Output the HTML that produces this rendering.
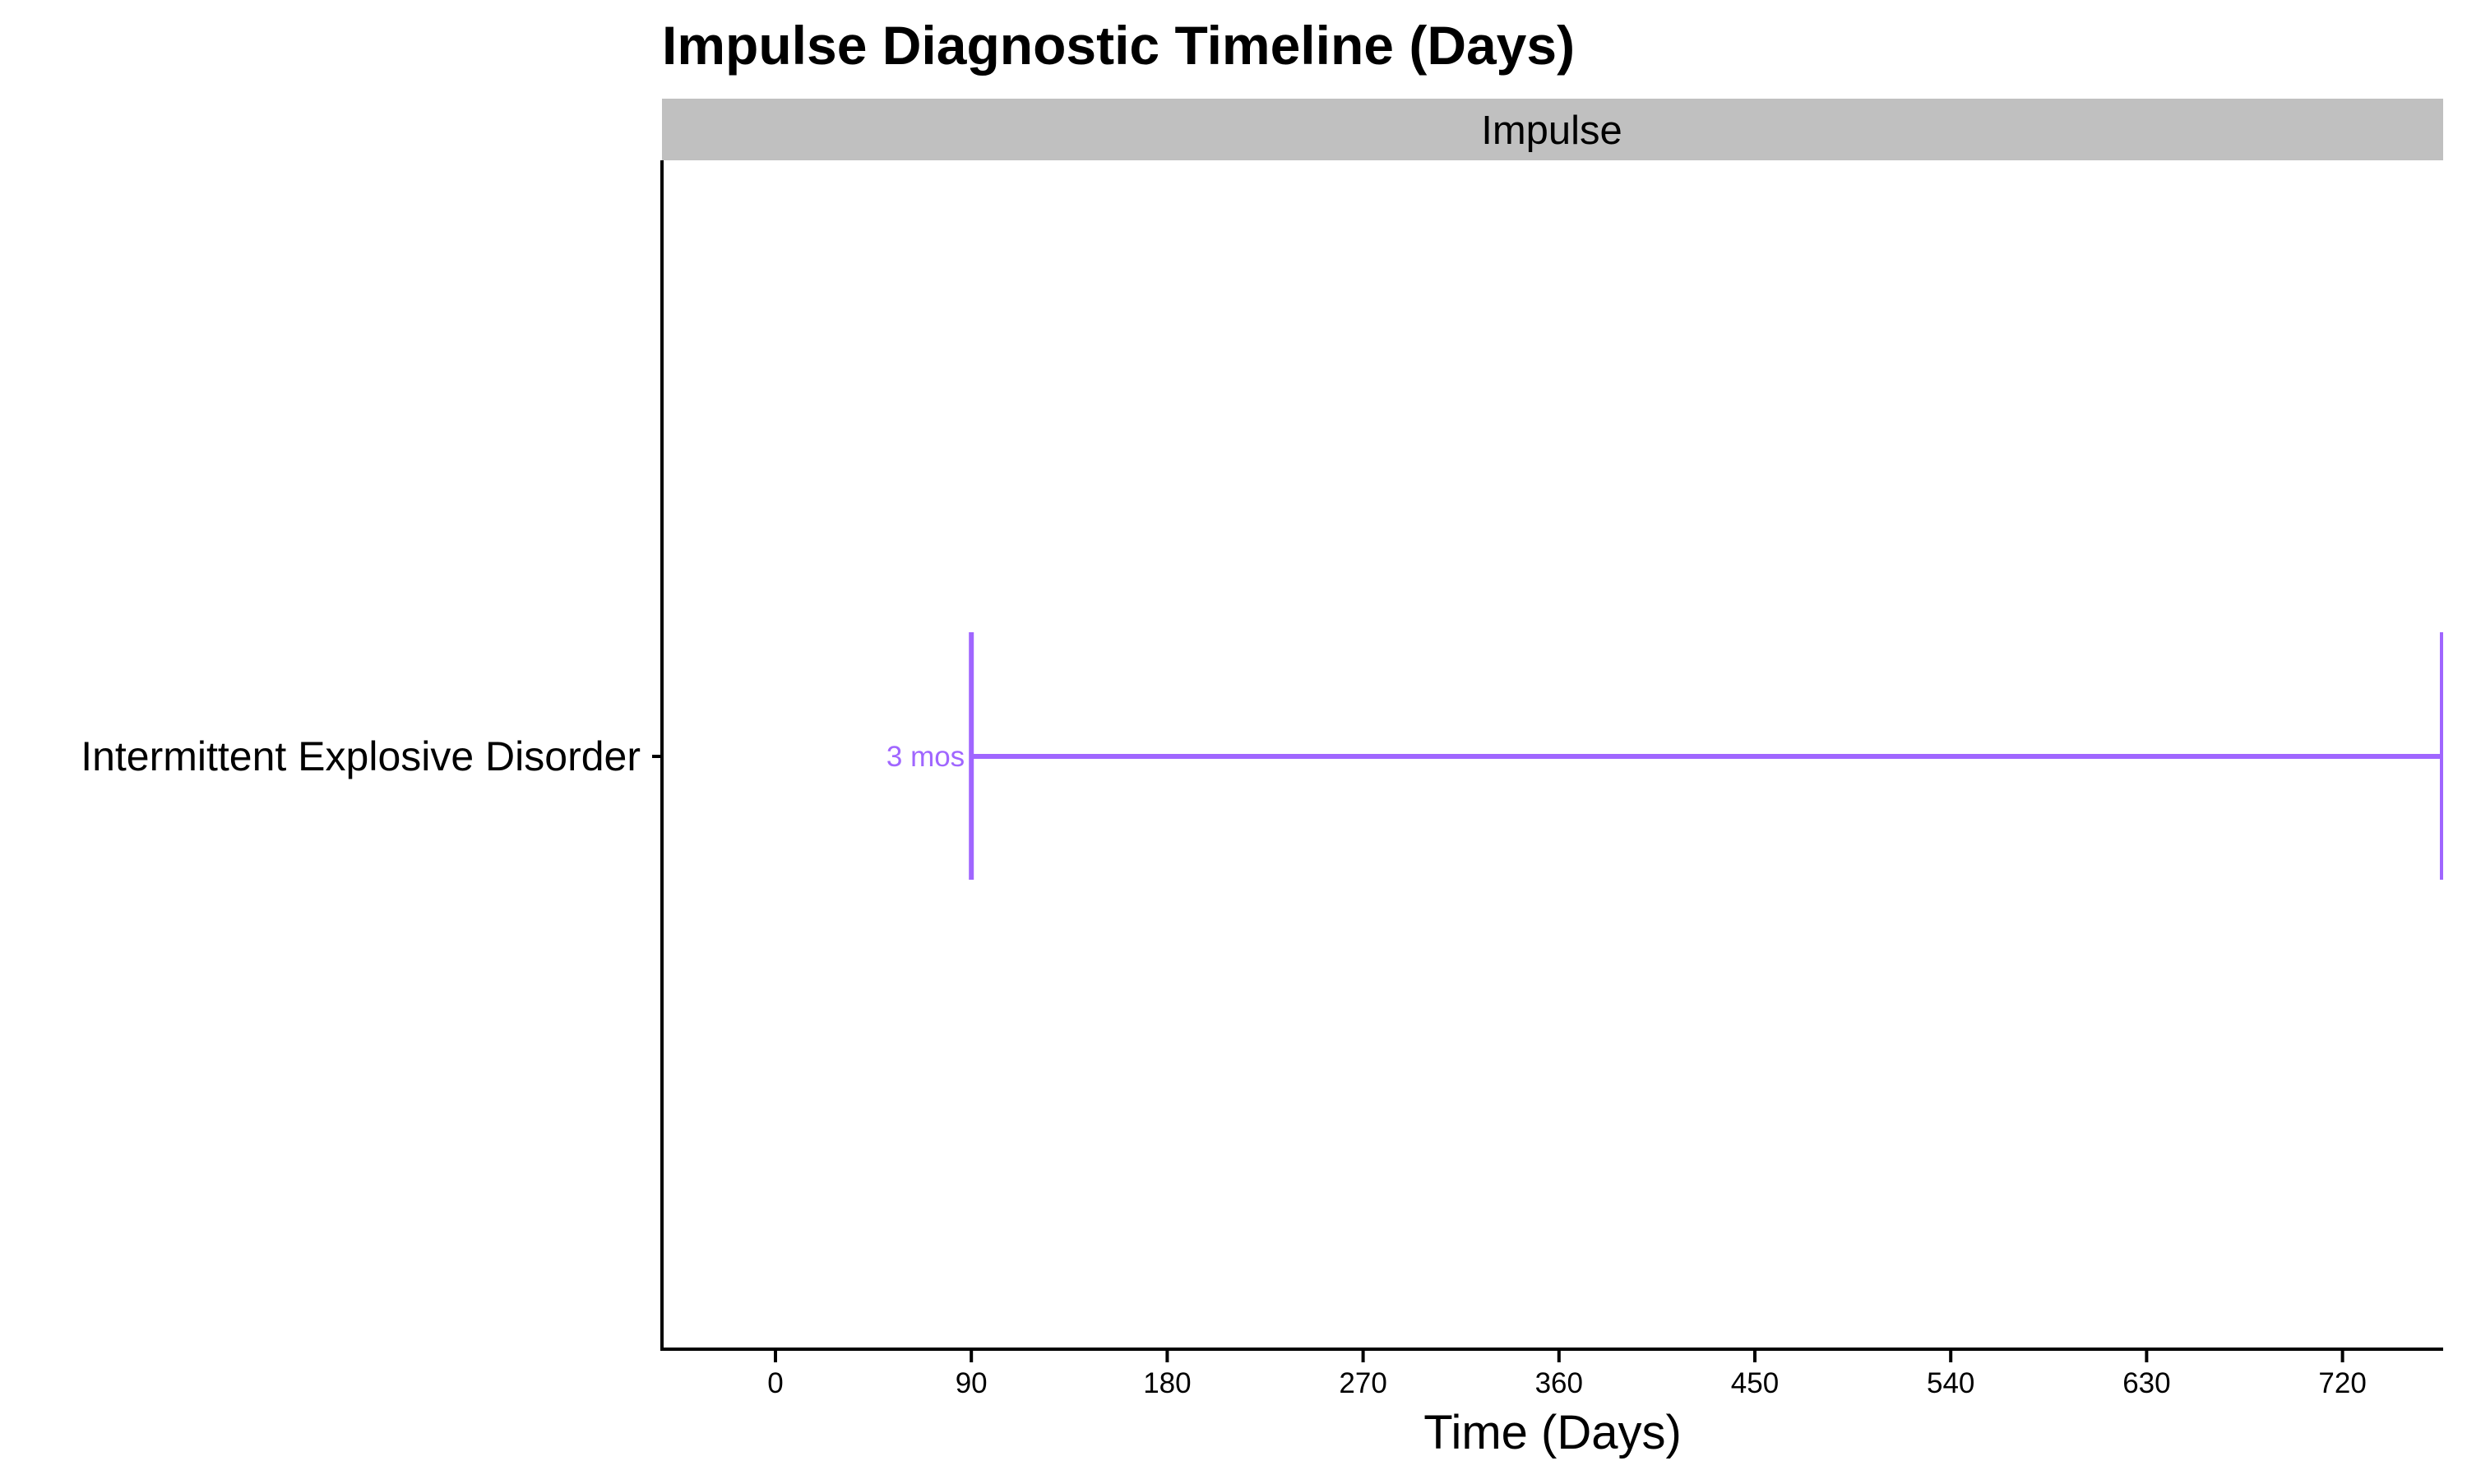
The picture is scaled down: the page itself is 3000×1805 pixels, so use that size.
<!DOCTYPE html>
<html><head><meta charset="utf-8"><style>
html,body{margin:0;padding:0;background:#fff;}
svg text{font-family:"Liberation Sans",Arial,sans-serif;}
</style></head><body>
<svg id="chart" width="3000" height="1800" xmlns="http://www.w3.org/2000/svg">
<text x="805" y="78" font-size="66" font-weight="bold" fill="#000">Impulse Diagnostic Timeline (Days)</text>
<rect x="805" y="120" width="2166" height="75" fill="#c0c0c0"/>
<text x="1887" y="175" font-size="49" text-anchor="middle" fill="#000">Impulse</text>
<g id="axes"></g>
<g id="marks"></g>
<text x="1888" y="1762" font-size="58" text-anchor="middle" fill="#000">Time (Days)</text>
</svg>
<script>
const categories = ["Intermittent Explosive Disorder"];
const startDays = [90];
const endDays = [768];
const startLabels = ["3 mos"];
const xTicks = [0, 90, 180, 270, 360, 450, 540, 630, 720];

const NS = "http://www.w3.org/2000/svg";
const L = 805, R = 2971, T = 195, B = 1641;
function x(d){ return 943 + d * 238.2 / 90; }
function y(i){ return 920 + i * 200; }
function mk(tag, attrs, parent){
  const e = document.createElementNS(NS, tag);
  for (const k in attrs) e.setAttribute(k, attrs[k]);
  parent.appendChild(e); return e;
}
const axes = document.getElementById('axes');
const marks = document.getElementById('marks');
let e = mk('line', {x1:L, y1:T, x2:L, y2:B+2, stroke:'#000', 'stroke-width':4}, axes);


e = mk('line', {x1:L-2, y1:B, x2:R, y2:B, stroke:'#000', 'stroke-width':4}, axes);


xTicks.forEach(t => {
  const tk = mk('line', {x1:x(t), y1:B, x2:x(t), y2:B+16, stroke:'#000', 'stroke-width':4}, axes);
  
  
  const tl = mk('text', {x:x(t), y:1694, 'font-size':35, 'text-anchor':'middle', fill:'#000'}, axes);
  tl.textContent = t;
  
  
});
categories.forEach((c, i) => {
  const yy = y(i);
  const tk = mk('line', {x1:L-12, y1:yy, x2:L, y2:yy, stroke:'#000', 'stroke-width':4}, axes);
  
  
  const tl = mk('text', {x:779, y:yy+17, 'font-size':50, 'text-anchor':'end', fill:'#000'}, axes);
  tl.textContent = c;
  
  
  const col = '#a066ff';
  const x1 = x(startDays[i]), x2 = Math.min(x(endDays[i]), R);
  const h = mk('line', {x1:x1, y1:yy, x2:x2, y2:yy, stroke:col, 'stroke-width':6}, marks);
  
  
  const s = mk('line', {x1:x1, y1:769, x2:x1, y2:1070, stroke:col, 'stroke-width':6}, marks);
  
  
  const en = mk('line', {x1:x2-2, y1:769, x2:x2-2, y2:1070, stroke:col, 'stroke-width':4}, marks);
  
  
  const lb = mk('text', {x:x1-8, y:yy+12, 'font-size':35, 'text-anchor':'end', fill:col}, marks);
  lb.textContent = startLabels[i];
  
  
});
</script>
</body></html>
